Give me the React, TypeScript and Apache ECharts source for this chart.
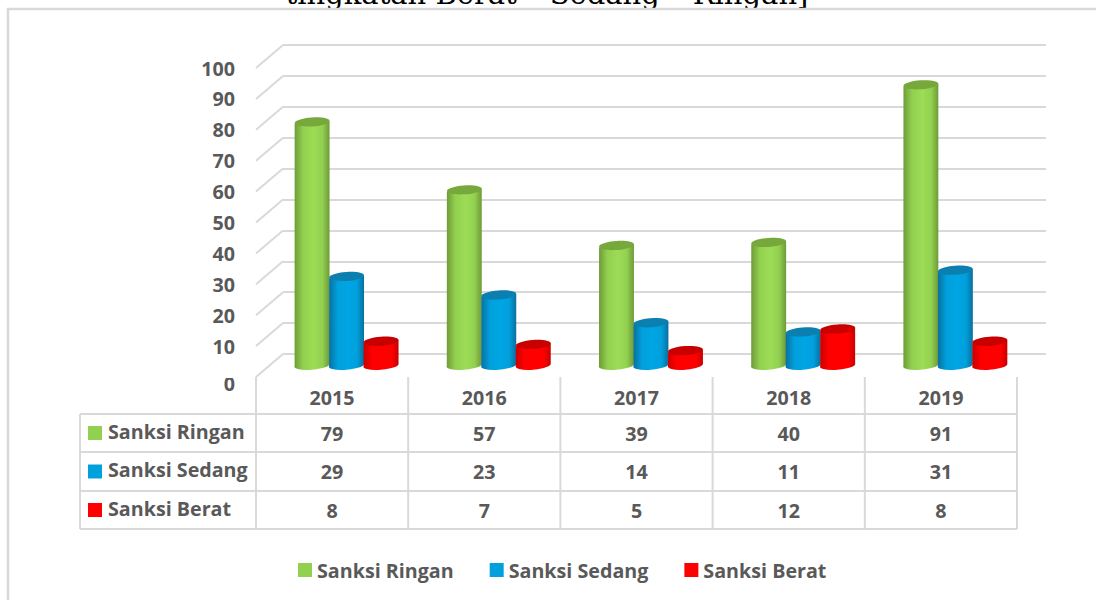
import React, { useEffect, useRef } from "react";
import * as echarts from "echarts";

const years = ["2015", "2016", "2017", "2018", "2019"];
const seriesNames = ["Sanksi Ringan", "Sanksi Sedang", "Sanksi Berat"];
const ringan = [79, 57, 39, 40, 91];
const sedang = [29, 23, 14, 11, 31];
const berat = [8, 7, 5, 12, 8];
const yTicks = [0, 10, 20, 30, 40, 50, 60, 70, 80, 90, 100];
const titleText = "tingkatan Berat – Sedang – Ringan]";
const seriesValues = [ringan, sedang, berat];
const colors = [
  { edge: "#6e9a36", mid: "#9ddc55", top: "#76a83c", solid: "#92d050" },
  { edge: "#0a6f9e", mid: "#00a5e3", top: "#0a7fb0", solid: "#00a0dc" },
  { edge: "#c80000", mid: "#ff0000", top: "#c80000", solid: "#ff0000" },
];
const textColor = "#595959";
const lineColor = "#d9d9d9";
const font = "'Open Sans'";
const fontSize = 19.7;

function cylinder(i: number) {
  const off = (i - 1) * 34.5;
  const c = colors[i];
  return (_: any, api: any) => {
    const cat = api.value(0);
    const [x0, yb] = api.coord([cat, 0]);
    const [, yt] = api.coord([cat, api.value(1)]);
    const cx = x0 + off;
    const rx = 17.5;
    const ry = 4.5;
    const rot = (4 * Math.PI) / 180;
    return {
      type: "group",
      children: [
        {
          type: "path",
          shape: {
            pathData: `M${cx - rx} ${yt + 2}L${cx + rx} ${yt - 1}L${cx + rx} ${yb - 2}A${rx} ${ry} -5 0 1 ${cx - rx} ${yb + 1}Z`,
            layout: "cover",
            x: cx - rx,
            y: yt - 1,
            width: rx * 2,
            height: yb + ry - yt + 1,
          },
          style: {
            fill: new echarts.graphic.LinearGradient(0, 0, 1, 0, [
              { offset: 0, color: c.edge },
              { offset: 0.25, color: c.solid },
              { offset: 0.55, color: c.mid },
              { offset: 0.8, color: c.solid },
              { offset: 1, color: c.edge },
            ]),
          },
        },
        {
          type: "ellipse",
          x: cx,
          y: yt,
          originX: 0,
          originY: 0,
          rotation: rot,
          shape: { cx: 0, cy: 0, rx, ry },
          style: { fill: c.top },
        },
      ],
    };
  };
}

const renderDiagonal = (params: any, api: any) => {
  const [, y] = api.coord([0, api.value(0)]);
  const x = params.coordSys.x;
  return {
    type: "line",
    shape: { x1: x, y1: y, x2: x + 27, y2: y - 23 },
    style: { stroke: lineColor, lineWidth: 2 },
  };
};

const tableLeft = 80;
const colLeft = 256;
const colW = 152.2;
const rowTops = [377, 414, 452, 491, 529];
const X_END = colLeft + colW * 5;

function tableGraphics() {
  const out: any[] = [];
  const ln = (x1: number, y1: number, x2: number, y2: number) =>
    out.push({ type: "line", shape: { x1, y1, x2, y2 }, style: { stroke: lineColor, lineWidth: 2 }, silent: true });
  rowTops.forEach((y, i) => { if (i > 0) ln(tableLeft, y, X_END, y); });
  ln(tableLeft, rowTops[1], tableLeft, rowTops[4]);
  for (let i = 0; i <= 5; i++) ln(colLeft + colW * i, rowTops[0], colLeft + colW * i, rowTops[4]);
  seriesNames.forEach((name, r) => {
    const cy = (rowTops[r + 1] + rowTops[r + 2]) / 2;
    out.push({ type: "rect", shape: { x: 88, y: cy - 7, width: 14, height: 14 }, style: { fill: colors[r].solid } });
    out.push({
      type: "text", x: 108, y: cy - 2,
      style: { text: name, font: `bold ${fontSize}px ${font}`, fill: textColor, textVerticalAlign: "middle" },
    });
    seriesValues[r].forEach((v, c) => {
      out.push({
        type: "text", x: colLeft + colW * (c + 0.5), y: cy,
        style: { text: String(v), font: `bold ${fontSize}px ${font}`, fill: textColor, textAlign: "center", textVerticalAlign: "middle" },
      });
    });
  });
  return out;
}

export default function App() {
  const ref = useRef<HTMLDivElement>(null);
  useEffect(() => {
    const chart = echarts.init(ref.current!, null, { renderer: "svg" });
    chart.setOption({
      animation: false,
      backgroundColor: "#fff",
      grid: [
        { left: 283, top: 45, width: 763, height: 309 },
        { left: 256, top: 68, width: colW * 5, height: 309 },
        { left: 270.5, top: 57, width: colW * 5, height: 309 },
      ],
      xAxis: [
        { type: "category", gridIndex: 0, data: years, show: false },
        {
          type: "category", gridIndex: 1, data: years,
          axisLine: { show: false }, axisTick: { show: false },
          axisLabel: { color: textColor, fontFamily: font, fontWeight: "bold", fontSize, margin: 10 },
        },
        { type: "category", gridIndex: 2, data: years, show: false },
      ],
      yAxis: [
        {
          type: "value", gridIndex: 0, min: 0, max: 100, interval: 10,
          axisLine: { show: false }, axisTick: { show: false }, axisLabel: { show: false },
          splitLine: { lineStyle: { color: lineColor, width: 2 } },
        },
        {
          type: "value", gridIndex: 1, min: 0, max: 100, interval: 10,
          axisLine: { show: false }, axisTick: { show: false }, splitLine: { show: false },
          axisLabel: {
            color: textColor, fontFamily: font, fontWeight: "bold", fontSize, margin: 21,
            formatter: (v: number) => (v === yTicks[0] ? "" : String(v)),
          },
        },
        { type: "value", gridIndex: 2, min: 0, max: 100, show: false, splitLine: { show: false } },
      ],
      legend: {
        data: seriesNames.map((name, i) => ({ name, itemStyle: { color: colors[i].solid } })),
        left: 298, top: 560, itemWidth: 14, itemHeight: 14, itemGap: 36, icon: "rect", padding: 0,
        textStyle: { color: textColor, fontFamily: font, fontWeight: "bold", fontSize },
      },
      series: [
        {
          type: "custom", name: "diagonals", xAxisIndex: 1, yAxisIndex: 1,
          data: yTicks.map((v) => [v]), encode: { y: 0 }, renderItem: renderDiagonal, silent: true, z: 1,
        },
        ...seriesNames.map((name, i) => ({
          type: "custom", name, xAxisIndex: 2, yAxisIndex: 2, z: 3 + i,
          data: seriesValues[i].map((v, k) => [k, v]),
          encode: { x: 0, y: 1 }, renderItem: cylinder(i), clip: false,
          itemStyle: { color: colors[i].solid },
        })),
      ],
      graphic: [
        { type: "text", x: 547, y: -21, style: { text: titleText, font: "29px 'DejaVu Serif'", fill: "#000", textAlign: "center" } },
        { type: "polyline", shape: { points: [[1096, 9], [8, 9], [8, 600]] }, style: { stroke: lineColor, fill: "none", lineWidth: 2.5 } },
        { type: "text", x: 235, y: 383, style: { text: String(yTicks[0]), font: `bold ${fontSize}px ${font}`, fill: textColor, textAlign: "right", textVerticalAlign: "middle" } },
        { type: "rect", shape: { x: 215, y: 366, width: 25, height: 12 }, style: { fill: "#fff" } },
        ...tableGraphics(),
      ],
    });
    return () => chart.dispose();
  }, []);
  return <div ref={ref} style={{ position: "fixed", left: 0, top: 0, width: 1096, height: 600 }} />;
}
